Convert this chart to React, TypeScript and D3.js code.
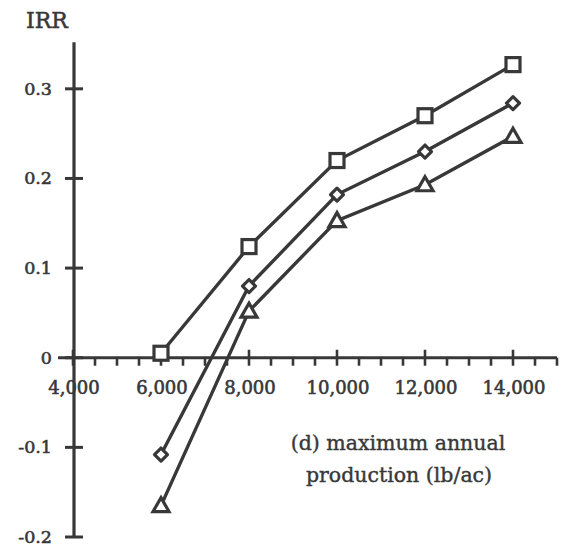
import React from "react";
import * as d3 from "d3";

const production = [6000, 8000, 10000, 12000, 14000];
const squareSeries = [0.005, 0.124, 0.22, 0.27, 0.327];
const diamondSeries = [-0.108, 0.08, 0.182, 0.23, 0.284];
const triangleSeries = [-0.165, 0.052, 0.153, 0.193, 0.247];
const xMajorTicks = [4000, 6000, 8000, 10000, 12000, 14000];
const yTicks = [-0.2, -0.1, 0, 0.1, 0.2, 0.3];
const yTickLabels = ["-0.2", "-0.1", "0", "0.1", "0.2", "0.3"];

const W = 564;
const H = 547;
const ink = "#383838";
const font = "'DejaVu Serif', 'Liberation Serif', serif";

export default function App() {
  const x = d3.scaleLinear().domain([4000, 15000]).range([73, 557]);
  const y = d3.scaleLinear().domain([-0.2, 0.35]).range([537, 44]);
  const minorTicks = d3.range(4500, 15001, 500).filter((v) => v % 2000 !== 0);
  const line = d3
    .line<number>()
    .x((_, i) => x(production[i]))
    .y((d) => y(d));

  const series = [
    { values: squareSeries, shape: "square" },
    { values: diamondSeries, shape: "diamond" },
    { values: triangleSeries, shape: "triangle" },
  ];

  const sw = 3.2;
  const marker = (shape: string, cx: number, cy: number, key: string) => {
    if (shape === "square") {
      return <rect key={key} x={cx - 7} y={cy - 7} width={14} height={14} fill="#fff" stroke={ink} strokeWidth={sw} />;
    }
    if (shape === "diamond") {
      const r = 6.5;
      return (
        <path key={key} d={`M${cx},${cy - r}L${cx + r},${cy}L${cx},${cy + r}L${cx - r},${cy}Z`} fill="#fff" stroke={ink} strokeWidth={sw} strokeLinejoin="round" />
      );
    }
    return (
      <path key={key} d={`M${cx},${cy - 8}L${cx + 8},${cy + 6}L${cx - 8},${cy + 6}Z`} fill="#fff" stroke={ink} strokeWidth={sw} strokeLinejoin="miter" />
    );
  };

  const y0 = y(0);
  const axisX = x(4000) + 1;
  const textStyle = { fontFamily: font, fill: ink, stroke: ink, strokeWidth: 0.6 } as const;

  return (
    <svg width={W} height={H} style={{ position: "absolute", left: 0, top: 0, background: "#fff" }}>
      <rect width={W} height={H} fill="#fff" />
      {/* y axis */}
      <line x1={axisX} x2={axisX} y1={y(0.352)} y2={y(-0.2)} stroke={ink} strokeWidth={3.2} />
      {yTicks.map((t, i) => (
        <g key={"yt" + i}>
          <line x1={axisX - 9} x2={axisX + 9} y1={y(t)} y2={y(t)} stroke={ink} strokeWidth={3} />
          <text x={52} y={y(t) + 6} textAnchor="end" fontSize={17.5} style={textStyle}>
            {yTickLabels[i]}
          </text>
        </g>
      ))}
      {/* x axis */}
      <line x1={58} x2={x(15000)} y1={y0} y2={y0} stroke={ink} strokeWidth={3.2} />
      {xMajorTicks.map((t) => (
        <g key={"xt" + t}>
          <line x1={x(t)} x2={x(t)} y1={y0 - 8} y2={y0 + 8} stroke={ink} strokeWidth={2.6} />
          <text x={x(t) + 1} y={y0 + 36} textAnchor="middle" fontSize={18} style={textStyle}>
            {d3.format(",")(t)}
          </text>
        </g>
      ))}
      {minorTicks.map((t) => (
        <line key={"mt" + t} x1={x(t)} x2={x(t)} y1={y0} y2={y0 + 8} stroke={ink} strokeWidth={2.6} />
      ))}
      {/* series */}
      {series.map((s, si) => (
        <path key={"l" + si} d={line(s.values) || ""} fill="none" stroke={ink} strokeWidth={3.4} />
      ))}
      {series.map((s, si) =>
        s.values.map((v, i) => marker(s.shape, x(production[i]), y(v), `m${si}-${i}`))
      )}
      {/* labels */}
      <text x={26} y={28} fontSize={22} style={{ ...textStyle, strokeWidth: 0.5 }}>
        IRR
      </text>
      <text x={398} y={450} textAnchor="middle" fontSize={20.5} style={{ ...textStyle, strokeWidth: 0.4 }}>
        (d) maximum annual
      </text>
      <text x={399} y={482} textAnchor="middle" fontSize={20.5} style={{ ...textStyle, strokeWidth: 0.4 }}>
        production (lb/ac)
      </text>
    </svg>
  );
}
